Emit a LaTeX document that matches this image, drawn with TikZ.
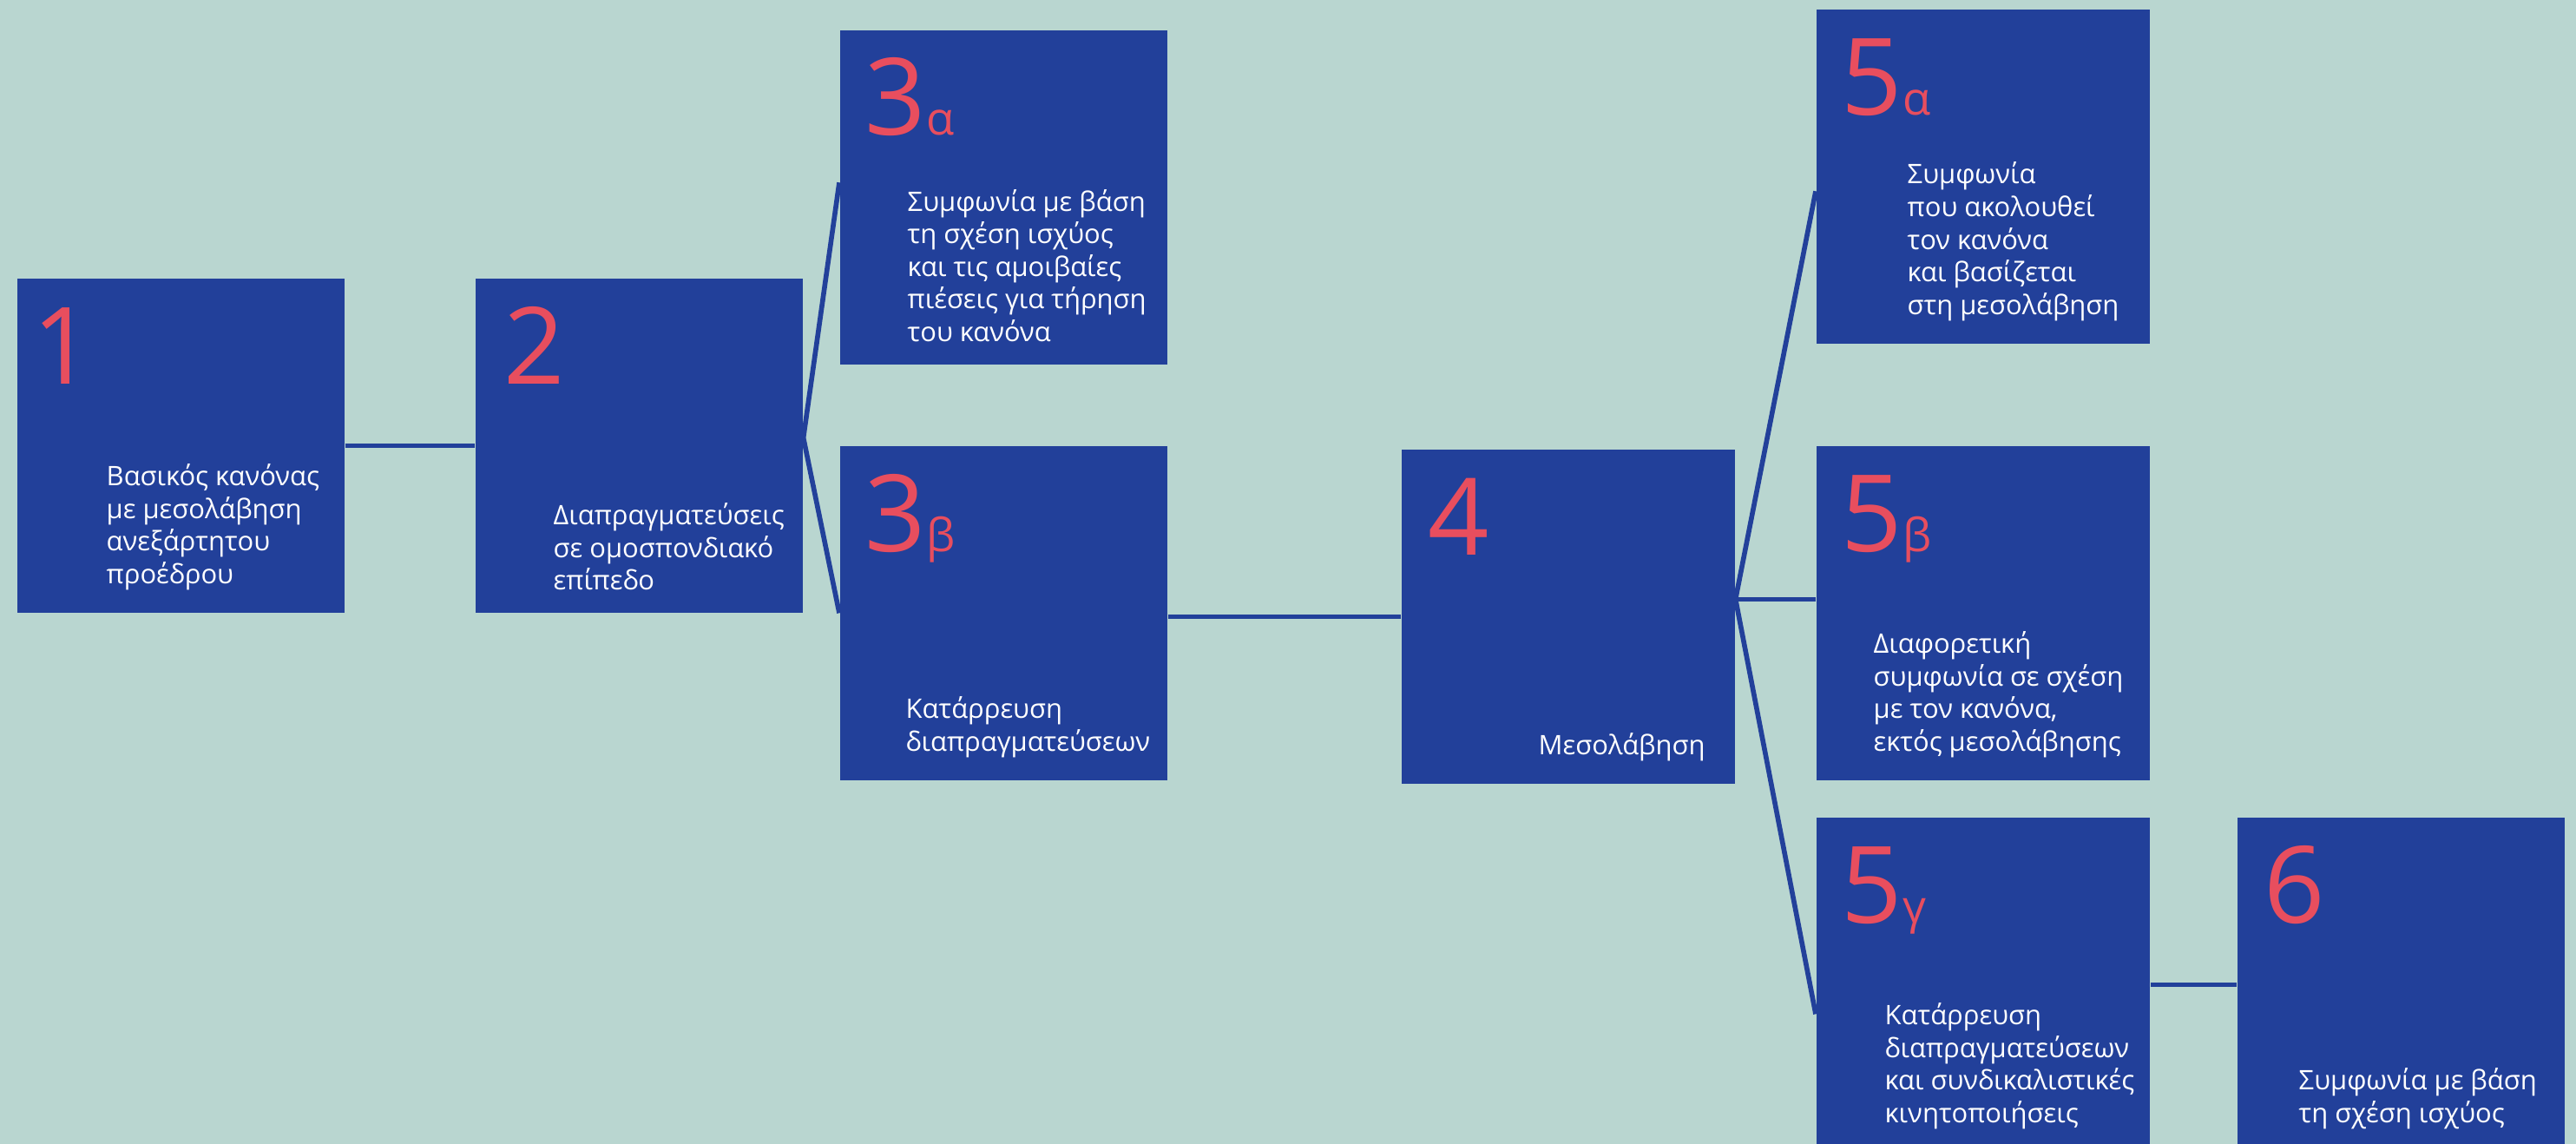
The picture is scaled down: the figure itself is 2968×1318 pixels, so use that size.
\documentclass[tikz,border=0pt]{standalone}
\usepackage{fontspec}
\setmainfont{Open Sans}
\usetikzlibrary{calc}

\definecolor{bgteal}{HTML}{B9D6D0}
\definecolor{boxblue}{HTML}{22409A}
\definecolor{numred}{HTML}{E84E5E}

\newcommand{\numfont}{\fontsize{35}{35}\selectfont}
\newcommand{\subfont}{\fontsize{15}{15}\selectfont}
\newcommand{\txtfont}{\fontsize{8.8}{10.7}\selectfont}
\newcommand{\subnum}[2]{#1{\subfont #2}}

\tikzset{
  box/.style={fill=boxblue, minimum width=3.77cm, minimum height=3.85cm, inner sep=0pt, anchor=north west},
  wide/.style={minimum width=3.84cm},
  num/.style={text=numred, font=\numfont, anchor=base west, inner sep=0pt},
  txt/.style={text=white, font=\txtfont, align=left, anchor=south west, inner sep=0pt},
  link/.style={draw=boxblue, line width=1.6pt}
}

\begin{document}
\begin{tikzpicture}[x=0.01cm, y=-0.01cm]
		\useasboundingbox (0,0) rectangle (2968,1318);
		\fill [bgteal] (0,0) rectangle (2968,1318);
		% stages
		\node [box] (s1) at (19,320) {};
		\node [box] (s2) at (547,320) {};
		\node [box] (s3a) at (967,34) {};
		\node [box] (s3b) at (967,513) {};
		\node [box, wide] (s4) at (1614,517) {};
		\node [box, wide] (s5a) at (2092,10) {};
		\node [box, wide] (s5b) at (2092,513) {};
		\node [box, wide] (s5g) at (2092,941) {};
		\node [box] (s6) at (2577,941) {};
		% numbers
		\node [num] (n1) at ($(s1.north west)+(18,122)$) {1};
		\node [num] (n2) at ($(s2.north west)+(33,122)$) {2};
		\node [num] (n3a) at ($(s3a.north west)+(29,122)$) {\subnum{3}{α}};
		\node [num] (n3b) at ($(s3b.north west)+(29,122)$) {\subnum{3}{β}};
		\node [num] (n4) at ($(s4.north west)+(31,122)$) {4};
		\node [num] (n5a) at ($(s5a.north west)+(29,122)$) {\subnum{5}{α}};
		\node [num] (n5b) at ($(s5b.north west)+(29,122)$) {\subnum{5}{β}};
		\node [num] (n5g) at ($(s5g.north west)+(29,122)$) {\subnum{5}{γ}};
		\node [num] (n6) at ($(s6.north west)+(31,122)$) {6};
		% texts
		\node [txt] (t1) at ($(s1.south west)+(103,-26)$) {Βασικός κανόνας\\με μεσολάβηση\\ανεξάρτητου\\προέδρου};
		\node [txt] (t2) at ($(s2.south west)+(90,-26)$) {Διαπραγματεύσεις\\σε ομοσπονδιακό\\επίπεδο};
		\node [txt] (t3a) at ($(s3a.south west)+(78,-26)$) {Συμφωνία με βάση\\τη σχέση ισχύος\\και τις αμοιβαίες\\πιέσεις για τήρηση\\του κανόνα};
		\node [txt] (t3b) at ($(s3b.south west)+(76,-26)$) {Κατάρρευση\\διαπραγματεύσεων};
		\node [txt] (t4) at ($(s4.south west)+(158,-26)$) {Μεσολάβηση};
		\node [txt] (t5a) at ($(s5a.south west)+(105,-26)$) {Συμφωνία\\που ακολουθεί\\τον κανόνα\\και βασίζεται\\στη μεσολάβηση};
		\node [txt] (t5b) at ($(s5b.south west)+(66,-26)$) {Διαφορετική\\συμφωνία σε σχέση\\με τον κανόνα,\\εκτός μεσολάβησης};
		\node [txt] (t5g) at ($(s5g.south west)+(79,-26)$) {Κατάρρευση\\διαπραγματεύσεων\\και συνδικαλιστικές\\κινητοποιήσεις};
		\node [txt] (t6) at ($(s6.south west)+(71,-26)$) {Συμφωνία με βάση\\τη σχέση ισχύος};
		% links
		\coordinate (h2) at ($(s2.east)+(0,-9)$);
		\coordinate (h4) at ($(s4.east)+(0,-20)$);
		\draw [link] (s1.east) -- (s2.west);
		\draw [link] ($(s3a.west)+(0,-17)$) -- (h2) -- (s3b.west);
		\draw [link] (s4.west) -- (s4.west -| s3b.east);
		\draw [link] ($(s5a.west)+(0,17)$) -- (h4) -- ($(s5g.west)+(0,34)$);
		\draw [link] (h4) -- (h4 -| s5b.west);
		\draw [link] (s5g.east) -- (s6.west);
		\end{tikzpicture}
\end{document}
